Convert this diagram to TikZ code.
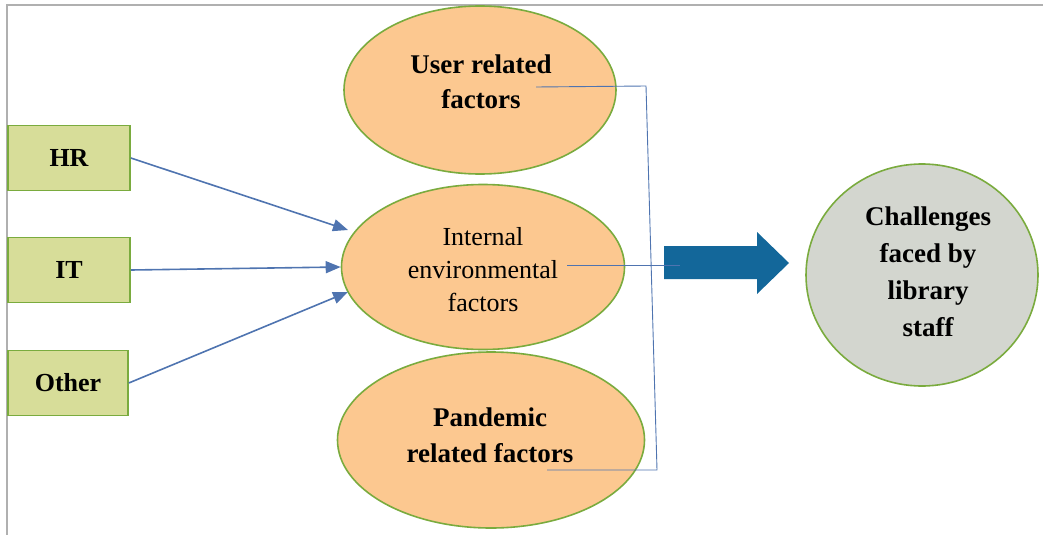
\documentclass[tikz,border=0pt]{standalone}
\usepackage{fontspec}
\setmainfont{Liberation Serif}
\usetikzlibrary{shapes.geometric,arrows.meta}
\definecolor{ellfill}{HTML}{FCC890}
\definecolor{grn}{HTML}{7AAB3E}
\definecolor{boxfill}{HTML}{D7DD99}
\definecolor{circfill}{HTML}{D3D6CF}
\definecolor{barrow}{HTML}{13679A}
\definecolor{lblue}{HTML}{4F74B0}
\definecolor{frame}{HTML}{B0B0B0}
\begin{document}
\begin{tikzpicture}[x=1pt,y=-1pt,
  ell/.style={ellipse,draw=grn,line width=1.6pt,fill=ellfill,inner sep=0pt},
  lbl/.style={align=center,inner sep=0pt},
  sbox/.style={rectangle,draw=grn,line width=1.6pt,fill=boxfill,minimum width=122pt,minimum height=65pt,font=\fontsize{26}{30}\selectfont\bfseries},
  inarrow/.style={draw=lblue,line width=1.6pt,-{Triangle[length=15pt,width=12pt]}},
  thin/.style={draw=lblue,line width=0.9pt}]
\useasboundingbox (0,0) rectangle (1046,535);
\draw[frame,line width=1.2pt] (7,535) -- (7,5) -- (1043,5);
% boxes
\node[sbox] (hr) at (69,158) {HR};
\node[sbox] (it) at (69,270) {IT};
\node[sbox,minimum width=120pt] (other) at (68,383) {Other};
% ellipses
\node[ell,minimum width=272pt,minimum height=168pt] (user) at (480,90) {};
\node[lbl,font=\fontsize{27}{35}\selectfont\bfseries] (usertext) at (481,82) {User related\\factors};
\node[ell,minimum width=283pt,minimum height=165pt] (internal) at (483,267) {};
\node[lbl,font=\fontsize{26}{33}\selectfont] (internaltext) at (483,270) {Internal\\environmental\\factors};
\node[ell,minimum width=307pt,minimum height=176pt] (pandemic) at (491,440) {};
\node[lbl,font=\fontsize{27}{36}\selectfont\bfseries] (pandemictext) at (490,435) {Pandemic\\related factors};
% circle
\node[ellipse,draw=grn,line width=1.6pt,fill=circfill,minimum width=232pt,minimum height=222pt,inner sep=0pt] (chal) at (922,275) {};
\node[lbl,font=\fontsize{27}{37}\selectfont\bfseries] (chaltext) at (928,272) {Challenges\\faced by\\library\\staff};
% input arrows
\draw[inarrow] (hr.east) -- (348,230);
\draw[inarrow] (it.east) -- (internal.west);
\draw[inarrow] (other.east) -- (348,292);
% block arrow
\fill[barrow] (664,246) -- (757,246) -- (757,232) -- (789,263) -- (757,294) -- (757,279) -- (664,279) -- cycle;
% thin connector lines
\coordinate (u1) at (536,87);
\coordinate (u2) at (646,86);
\coordinate (p2) at (657,470);
\coordinate (p1) at (547,470);
\coordinate (m1) at (567,265);
\coordinate (m2) at (680,265);
\draw[thin] (u1) -- (u2) -- (p2) -- (p1);
\draw[thin] (m1) -- (m2);
\end{tikzpicture}
\end{document}
